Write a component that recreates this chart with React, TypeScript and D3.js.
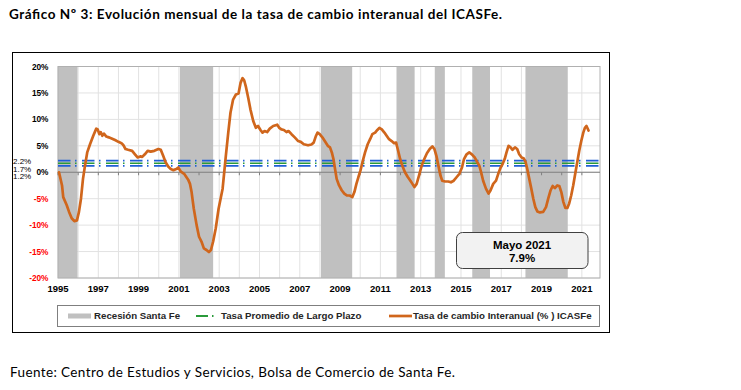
// Gráfico Nº 3 — tasa de cambio interanual del ICASFe (D3 sobre un <svg> de React)

import { useRef, useEffect } from "react";
import * as d3 from "d3";

const W = 741;
const H = 390;

// ── Datos ───────────────────────────────────────────────────────────────────

// Serie mensual: [año decimal, tasa interanual %]
const tasaIcasfe: [number, number][] = [
  [1995.05, 0], [1995.2, -2.5], [1995.26, -4.7], [1995.43, -6.2], [1995.55, -7.5],
  [1995.68, -8.7], [1995.81, -9.25], [1995.94, -9.1], [1996.04, -7.5], [1996.14, -5],
  [1996.24, -1.25], [1996.34, 1.25], [1996.45, 3.75], [1996.59, 5.3], [1996.75, 6.9],
  [1996.9, 8.25], [1996.97, 8.1], [1997.05, 7.2], [1997.12, 7.6], [1997.2, 6.9],
  [1997.28, 7.3], [1997.4, 6.75], [1997.52, 6.6], [1997.66, 6.4], [1997.83, 6.1],
  [1998.0, 5.75], [1998.15, 5.5], [1998.25, 5.1], [1998.35, 4.4], [1998.48, 4.25],
  [1998.68, 4.05], [1998.82, 3.4], [1998.95, 2.8], [1999.08, 3.0], [1999.18, 2.9],
  [1999.31, 3.4], [1999.45, 4.05], [1999.6, 3.9], [1999.78, 4.05], [1999.98, 4.4],
  [2000.1, 4.25], [2000.22, 3.1], [2000.34, 1.9], [2000.47, 1.1], [2000.6, 0.6],
  [2000.73, 0.4], [2000.87, 0.6], [2000.97, 0.9], [2001.1, 0.1], [2001.26, -0.3],
  [2001.46, -1.4], [2001.55, -2.2], [2001.63, -3.75], [2001.74, -6.9], [2001.88, -10],
  [2002.0, -12.2], [2002.12, -13.1], [2002.24, -14.4], [2002.37, -14.7], [2002.49, -15.1],
  [2002.59, -14.7], [2002.7, -13.1], [2002.83, -10.6], [2002.97, -6.9], [2003.07, -5],
  [2003.17, -3.1], [2003.25, 0], [2003.33, 3.1], [2003.45, 7.5], [2003.56, 11.25],
  [2003.69, 13.75], [2003.83, 14.7], [2003.96, 14.9], [2004.06, 16.9], [2004.16, 17.8],
  [2004.24, 17.4], [2004.32, 16.25], [2004.44, 14.1], [2004.55, 11.9], [2004.69, 9.7],
  [2004.82, 8.4], [2004.93, 8.75], [2005.05, 8.0], [2005.15, 7.5], [2005.25, 7.8],
  [2005.38, 7.6], [2005.51, 8.25], [2005.68, 8.75], [2005.88, 9.0], [2005.98, 8.4],
  [2006.09, 8.1], [2006.21, 8.0], [2006.34, 7.6], [2006.44, 7.8], [2006.59, 7.2],
  [2006.75, 6.6], [2006.92, 5.9], [2007.05, 5.75], [2007.2, 5.3], [2007.41, 5.1],
  [2007.58, 5.25], [2007.69, 5.6], [2007.79, 6.75], [2007.88, 7.5], [2007.99, 7.2],
  [2008.12, 6.6], [2008.24, 5.9], [2008.39, 5.0], [2008.5, 4.7], [2008.59, 3.75],
  [2008.67, 2.5], [2008.75, 0.6], [2008.83, -1.25], [2008.95, -2.5], [2009.08, -3.4],
  [2009.21, -4.05], [2009.35, -4.4], [2009.48, -4.4], [2009.61, -4.7], [2009.71, -3.75],
  [2009.81, -2.2], [2009.91, -0.9], [2010.01, 0.3], [2010.11, 1.9], [2010.24, 3.75],
  [2010.37, 5.3], [2010.49, 6.25], [2010.6, 7.2], [2010.74, 7.5], [2010.85, 8.0],
  [2010.95, 8.4], [2011.07, 8.1], [2011.2, 7.5], [2011.31, 6.9], [2011.43, 6.25],
  [2011.56, 5.9], [2011.68, 5.5], [2011.78, 5.6], [2011.86, 4.4], [2011.98, 2.5],
  [2012.09, 1.25], [2012.22, 0], [2012.36, -0.9], [2012.49, -1.6], [2012.59, -2.2],
  [2012.69, -2.8], [2012.8, -2.2], [2012.92, -0.6], [2013.05, 1.25], [2013.18, 2.5],
  [2013.31, 3.6], [2013.45, 4.4], [2013.58, 4.9], [2013.68, 4.4], [2013.78, 3.1],
  [2013.88, 1.25], [2013.98, -0.6], [2014.07, -1.6], [2014.21, -1.75], [2014.37, -1.75],
  [2014.5, -1.9], [2014.64, -1.6], [2014.79, -0.9], [2014.92, -0.3], [2015.05, 0.9],
  [2015.15, 2.5], [2015.28, 3.4], [2015.41, 3.75], [2015.54, 3.4], [2015.68, 2.8],
  [2015.81, 1.9], [2015.91, 1.25], [2016.0, 0], [2016.1, -1.6], [2016.24, -3.1],
  [2016.37, -4.05], [2016.47, -3.4], [2016.6, -2.2], [2016.74, -1.6], [2016.85, -0.3],
  [2016.97, 0.9], [2017.07, 1.6], [2017.17, 2.5], [2017.26, 3.75], [2017.36, 5.0],
  [2017.46, 4.7], [2017.56, 4.25], [2017.68, 4.7], [2017.79, 4.4], [2017.89, 3.4],
  [2018.01, 2.8], [2018.12, 2.6], [2018.21, 1.9], [2018.29, 0.6], [2018.39, -1.25],
  [2018.49, -3.1], [2018.59, -5], [2018.69, -6.6], [2018.79, -7.4], [2018.92, -7.6],
  [2019.08, -7.5], [2019.22, -6.6], [2019.33, -5], [2019.45, -3.4], [2019.55, -2.6],
  [2019.66, -3.0], [2019.78, -2.5], [2019.88, -2.6], [2019.98, -3.75], [2020.08, -5.6],
  [2020.18, -6.75], [2020.28, -6.75], [2020.37, -5.9], [2020.47, -4.4], [2020.57, -2.5],
  [2020.67, -0.3], [2020.77, 1.9], [2020.87, 4.05], [2020.97, 5.9], [2021.07, 7.5],
  [2021.15, 8.4], [2021.23, 8.75], [2021.33, 7.9],
];

// Períodos de recesión de Santa Fe: [inicio, fin] en años decimales
const recesiones: [number, number][] = [
  [1995.0, 1995.97],
  [2001.05, 2002.7],
  [2008.05, 2009.6],
  [2011.8, 2012.7],
  [2013.7, 2014.2],
  [2015.56, 2016.44],
  [2018.2, 2020.3],
];

// Tasa promedio de largo plazo (banda)
const promediosLargoPlazo = [2.2, 1.7, 1.2];
const promediosEtiquetas = ["2.2%", "1.7%", "1.2%"];

const yTicks = [20, 15, 10, 5, 0, -5, -10, -15, -20];
const xAnios = d3.range(1995, 2022);
const xEtiquetas = d3.range(1995, 2022, 2);

const leyenda = [
  "Recesión Santa Fe",
  "Tasa Promedio de Largo Plazo",
  "Tasa de cambio Interanual (% ) ICASFe",
];

const ultimoDato = { mes: "Mayo 2021", valor: "7.9%" };

// ── Estilo ──────────────────────────────────────────────────────────────────

const PLOT = { left: 58, right: 600, top: 66.5, bottom: 278 };
const FONT = "'Liberation Sans', Arial, sans-serif";
const NARANJA = "#d0661c";
const GRIS_RECESION = "#c0c0c0";
const AZUL = "#1f5fd6";
const VERDE = "#2a9a3a";
const COLORES_PROMEDIO = [AZUL, VERDE, AZUL];
const DASH = "12.5,4.5,1.5,5.5";

export default function App() {
  const svgRef = useRef<SVGSVGElement>(null);

  useEffect(() => {
    if (!svgRef.current) return;
    const svg = d3.select(svgRef.current);
    svg.selectAll("*").remove();

    const x = d3.scaleLinear().domain([1995, 2021.9]).range([PLOT.left, PLOT.right]);
    const y = d3.scaleLinear().domain([-20, 20]).range([PLOT.bottom, PLOT.top]);

    // ── Título y fuente ───────────────────────────────────────────────────
    svg.append("text")
      .attr("x", 9).attr("y", 19)
      .attr("font-family", "Lato, 'Open Sans', sans-serif")
      .attr("font-weight", "bold").attr("font-size", 13.5)
      .attr("textLength", 493).attr("lengthAdjust", "spacing")
      .attr("fill", "#000")
      .text("Gráfico Nº 3: Evolución mensual de la tasa de cambio interanual del ICASFe.");

    svg.append("text")
      .attr("x", 10).attr("y", 377)
      .attr("font-family", "Lato, 'Open Sans', sans-serif")
      .attr("font-size", 13.5)
      .attr("textLength", 445).attr("lengthAdjust", "spacing")
      .attr("fill", "#000")
      .text("Fuente: Centro de Estudios y Servicios, Bolsa de Comercio de Santa Fe.");

    // ── Marco ─────────────────────────────────────────────────────────────
    svg.append("rect")
      .attr("x", 12.5).attr("y", 52.5).attr("width", 597).attr("height", 280)
      .attr("fill", "#fff").attr("stroke", "#000").attr("stroke-width", 1);

    // ── Grilla ────────────────────────────────────────────────────────────
    const g = svg.append("g");

    g.selectAll(".grid-y").data(yTicks).enter().append("line")
      .attr("x1", PLOT.left).attr("x2", PLOT.right)
      .attr("y1", (d) => y(d)).attr("y2", (d) => y(d))
      .attr("stroke", "#e2e2e2").attr("stroke-width", 1);

    g.selectAll(".grid-x").data(xAnios).enter().append("line")
      .attr("x1", (d) => x(d)).attr("x2", (d) => x(d))
      .attr("y1", PLOT.top).attr("y2", PLOT.bottom)
      .attr("stroke", "#e2e2e2").attr("stroke-width", 1);

    // ── Recesiones ────────────────────────────────────────────────────────
    g.selectAll(".rec").data(recesiones).enter().append("rect")
      .attr("x", (d) => x(d[0]))
      .attr("width", (d) => x(d[1]) - x(d[0]))
      .attr("y", PLOT.top).attr("height", PLOT.bottom - PLOT.top)
      .attr("fill", GRIS_RECESION);

    // Borde del área de trazado
    g.append("rect")
      .attr("x", PLOT.left).attr("y", PLOT.top)
      .attr("width", PLOT.right - PLOT.left).attr("height", PLOT.bottom - PLOT.top)
      .attr("fill", "none").attr("stroke", "#b0b0b0").attr("stroke-width", 1);

    // ── Eje cero con marcas ───────────────────────────────────────────────
    g.append("line")
      .attr("x1", PLOT.left).attr("x2", PLOT.right)
      .attr("y1", y(0)).attr("y2", y(0))
      .attr("stroke", "#7f7f7f").attr("stroke-width", 1);

    g.selectAll(".tick-x").data(xAnios).enter().append("line")
      .attr("x1", (d) => x(d)).attr("x2", (d) => x(d))
      .attr("y1", y(0)).attr("y2", y(0) + 3)
      .attr("stroke", "#7f7f7f").attr("stroke-width", 1);

    // ── Tasa promedio de largo plazo ──────────────────────────────────────
    g.selectAll(".prom").data(promediosLargoPlazo).enter().append("line")
      .attr("x1", PLOT.left).attr("x2", PLOT.right)
      .attr("y1", (d) => y(d)).attr("y2", (d) => y(d))
      .attr("stroke", (_d, i) => COLORES_PROMEDIO[i])
      .attr("stroke-width", 1.6)
      .attr("stroke-dasharray", DASH);

    // ── Serie ICASFe ──────────────────────────────────────────────────────
    const linea = d3.line<[number, number]>()
      .x((d) => x(d[0]))
      .y((d) => y(d[1]));

    g.append("path")
      .datum(tasaIcasfe)
      .attr("d", linea)
      .attr("fill", "none")
      .attr("stroke", NARANJA)
      .attr("stroke-width", 2.7)
      .attr("stroke-linejoin", "round")
      .attr("stroke-linecap", "round");

    // ── Eje Y ─────────────────────────────────────────────────────────────
    g.selectAll(".ylab").data(yTicks).enter().append("text")
      .attr("x", 48.5).attr("y", (d) => y(d) + 3)
      .attr("text-anchor", "end")
      .attr("font-family", FONT).attr("font-weight", "bold").attr("font-size", 8.3)
      .attr("fill", (d) => (d < 0 ? "#ff0000" : "#000"))
      .text((d) => `${d}%`);

    g.selectAll(".ylab-prom").data(promediosEtiquetas).enter().append("text")
      .attr("x", 13).attr("y", (_d, i) => 164 + i * 7.6)
      .attr("font-family", FONT).attr("font-size", 8)
      .attr("fill", "#000")
      .text((d) => d);

    // ── Eje X ─────────────────────────────────────────────────────────────
    g.selectAll(".xlab").data(xEtiquetas).enter().append("text")
      .attr("x", (d) => x(d)).attr("y", 292)
      .attr("text-anchor", "middle")
      .attr("font-family", FONT).attr("font-weight", "bold").attr("font-size", 9.5)
      .attr("fill", "#000")
      .text((d) => String(d));

    // ── Leyenda ───────────────────────────────────────────────────────────
    const ley = svg.append("g");
    ley.append("rect")
      .attr("x", 57.5).attr("y", 305.5).attr("width", 542).attr("height", 21)
      .attr("fill", "#fff").attr("stroke", "#7f7f7f").attr("stroke-width", 1);

    const ly = 316;
    ley.append("rect")
      .attr("x", 68).attr("y", ly - 2.5).attr("width", 23).attr("height", 5)
      .attr("fill", GRIS_RECESION);
    ley.append("line")
      .attr("x1", 196).attr("x2", 217).attr("y1", ly).attr("y2", ly)
      .attr("stroke", VERDE).attr("stroke-width", 2)
      .attr("stroke-dasharray", "12,4,1.5,10");
    ley.append("line")
      .attr("x1", 389).attr("x2", 412).attr("y1", ly).attr("y2", ly)
      .attr("stroke", NARANJA).attr("stroke-width", 2.7);

    const leyX = [94, 221, 413];
    ley.selectAll(".ltxt").data(leyenda).enter().append("text")
      .attr("x", (_d, i) => leyX[i]).attr("y", ly + 3.4)
      .attr("font-family", FONT).attr("font-weight", "bold").attr("font-size", 9.7)
      .attr("fill", "#262626")
      .text((d) => d);

    // ── Recuadro último dato ──────────────────────────────────────────────
    const box = svg.append("g");
    box.append("rect")
      .attr("x", 456.5).attr("y", 232.5).attr("width", 131.5).attr("height", 36)
      .attr("rx", 6).attr("ry", 6)
      .attr("fill", "#f2f2f2").attr("stroke", "#404040").attr("stroke-width", 1);
    box.append("text")
      .attr("x", 522).attr("y", 249)
      .attr("text-anchor", "middle")
      .attr("font-family", FONT).attr("font-weight", "bold").attr("font-size", 11.5)
      .attr("fill", "#000")
      .text(ultimoDato.mes);
    box.append("text")
      .attr("x", 522).attr("y", 262)
      .attr("text-anchor", "middle")
      .attr("font-family", FONT).attr("font-weight", "bold").attr("font-size", 11.5)
      .attr("fill", "#000")
      .text(ultimoDato.valor);
  }, []);

  return (
    <svg
      ref={svgRef}
      width={W}
      height={H}
      style={{ position: "absolute", left: 0, top: 0, display: "block", background: "#fff" }}
    />
  );
}
